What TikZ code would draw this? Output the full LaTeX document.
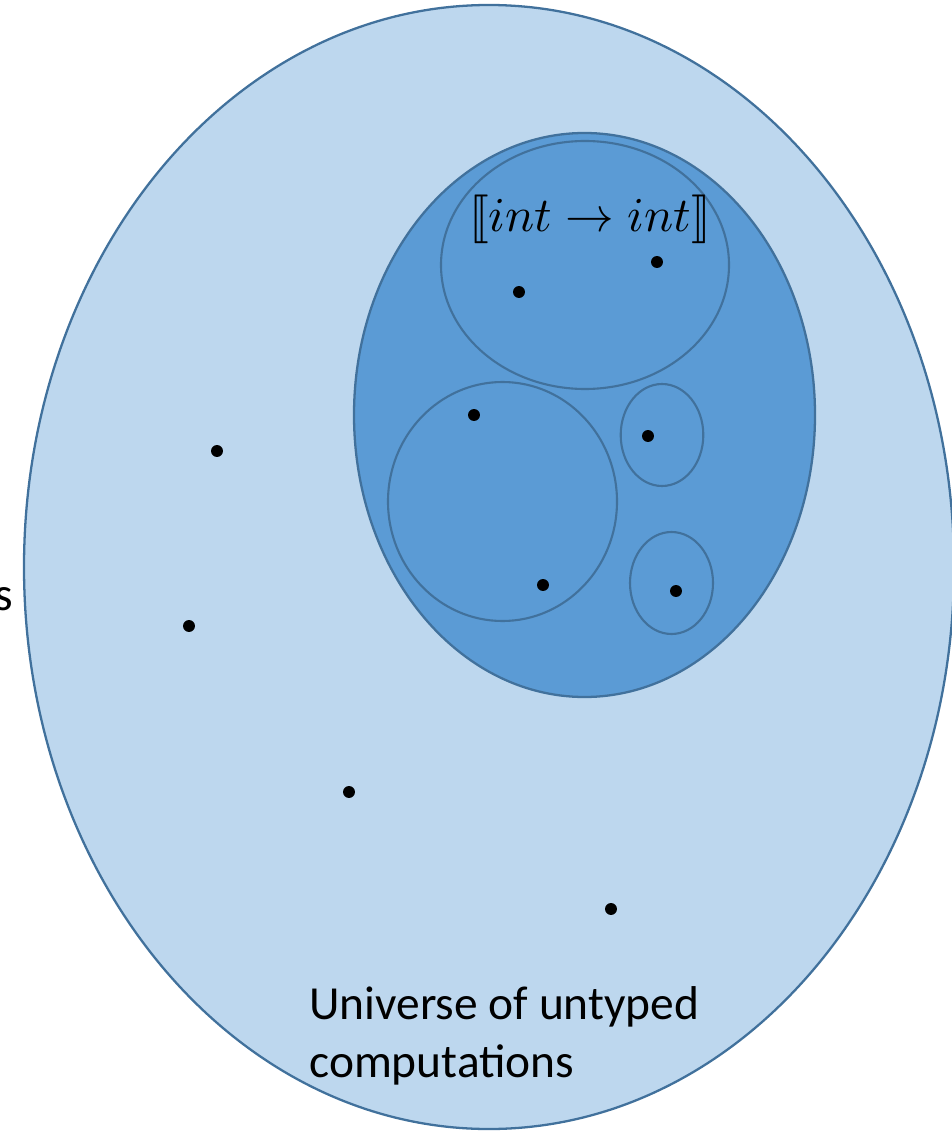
\documentclass[tikz,border=0pt]{standalone}
\usepackage{fontspec}
\setsansfont{Carlito}
\usepackage{stmaryrd}
\definecolor{lightset}{HTML}{BDD7EE}
\definecolor{typeset}{HTML}{5B9BD5}
\definecolor{rimblue}{HTML}{41719C}
\tikzset{
	elem/.style={circle, fill=black, inner sep=0pt, minimum size=6.8pt},
	bigtext/.style={font=\sffamily\fontsize{27}{33}\selectfont}
}

\begin{document}
\begin{tikzpicture}[x=0.02cm, y=-0.02cm]
	\useasboundingbox (0,0) rectangle (951,1131);
	% universe
	\draw[line width=1.3pt, color=rimblue, fill=lightset] (489,567) ellipse [x radius=465, y radius=562];
	% typed part
	\draw[line width=1.3pt, color=rimblue, fill=typeset] (584.5,415) ellipse [x radius=230.5, y radius=282];
	\draw[line width=1.2pt, color=rimblue, fill=typeset] (585,265) ellipse [x radius=144, y radius=124];
	\draw[line width=1.2pt, color=rimblue, fill=typeset] (502.5,501.5) ellipse [x radius=114.5, y radius=119.5];
	\draw[line width=1.2pt, color=rimblue, fill=typeset] (662,435) ellipse [x radius=41.3, y radius=51];
	\draw[line width=1.2pt, color=rimblue, fill=typeset] (671.5,583) ellipse [x radius=41.5, y radius=51];
	% elements
	\node[elem] (e1) at (519,292) {};
	\node[elem] (e2) at (657,262) {};
	\node[elem] (e3) at (474,415) {};
	\node[elem] (e4) at (648,436) {};
	\node[elem] (e5) at (543,585) {};
	\node[elem] (e6) at (676,591) {};
	\node[elem] (e7) at (217,451) {};
	\node[elem] (e8) at (189,626) {};
	\node[elem] (e9) at (349,792) {};
	\node[elem] (e10) at (611,909) {};
	% labels
	\node[scale=2.77] (fun) at (590,219) {$\llbracket int \to int \rrbracket$};
	\node[bigtext, anchor=base west, align=left, inner sep=0pt] (univ) at (309,1077) {Universe of untyped\\computations};
	\node[bigtext, anchor=base east, inner sep=0pt] (cut) at (13,610) {s};
\end{tikzpicture}
\end{document}
